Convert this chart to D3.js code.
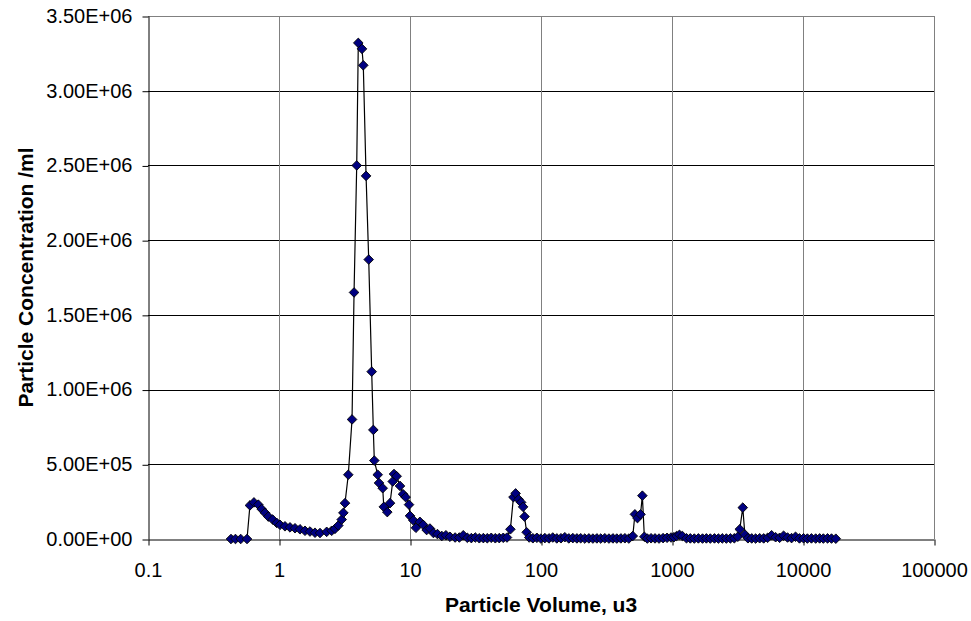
<!DOCTYPE html>
<html>
<head>
<meta charset="utf-8">
<script src="https://cdn.jsdelivr.net/npm/d3@7"></script>
<style>
  body { margin: 0; background: #fff; }
  svg text { font-family: "Liberation Sans", Arial, sans-serif; }
</style>
</head>
<body>
<div id="chart"></div>
<script>
// particle volume (u3) for each channel
const volumes = [
  0.43, 0.465, 0.51, 0.57, 0.60, 0.644, 0.695, 0.738, 0.782, 0.829,
  0.895, 0.96, 1.018, 1.111, 1.213, 1.325, 1.446, 1.579, 1.724, 1.883,
  2.056, 2.312, 2.525, 2.675, 2.836, 3.01, 3.10, 3.19, 3.38, 3.61,
  3.74, 3.92, 4.03, 4.30, 4.40, 4.62, 4.84, 5.10, 5.25, 5.34,
  5.67, 5.80, 6.19, 6.31, 6.71, 7.04, 7.38, 7.55, 7.91, 8.39,
  8.85, 9.27, 9.83, 10.0, 10.6, 11.1, 11.9, 12.6, 13.4, 14.2,
  15.1, 16.2, 17.5, 18.8, 20.2, 22.1, 23.8, 25.5, 27.4, 29.4,
  31.5, 33.8, 36.3, 38.9, 41.7, 44.8, 48.0, 51.5, 55.0, 58.4,
  61.6, 64.0, 67.5, 70.5, 73.0, 74.9, 77.7, 81.3, 86.7, 93,
  99.8, 107, 115, 123, 132, 142, 152, 163, 175, 188,
  201, 216, 232, 249, 267, 286, 307, 330, 354, 379,
  407, 437, 468, 502, 521, 545, 575, 594, 615, 648,
  692, 742, 796, 855, 917, 984, 1034, 1085, 1140, 1200,
  1290, 1380, 1480, 1590, 1710, 1830, 1960, 2110, 2260, 2420,
  2600, 2790, 2990, 3180, 3290, 3470, 3600, 3800, 4060, 4350,
  4670, 5010, 5370, 5760, 6180, 6630, 7110, 7620, 8180, 8770,
  9400, 10100, 10800, 11600, 12500, 13400, 14300, 15400, 16500, 17800
];

// concentration per ml, in millions
const concMillions = [
  0, 0, 0, 0, 0.225, 0.245, 0.23, 0.20, 0.175, 0.15,
  0.13, 0.108, 0.095, 0.085, 0.078, 0.072, 0.065, 0.055, 0.05, 0.042,
  0.04, 0.048, 0.055, 0.068, 0.09, 0.13, 0.175, 0.24, 0.43, 0.80,
  1.65, 2.50, 3.32, 3.28, 3.17, 2.43, 1.87, 1.12, 0.73, 0.525,
  0.43, 0.375, 0.34, 0.215, 0.18, 0.24, 0.385, 0.435, 0.42, 0.355,
  0.30, 0.28, 0.23, 0.155, 0.125, 0.075, 0.115, 0.095, 0.06, 0.07,
  0.04, 0.033, 0.02, 0.025, 0.015, 0.01, 0.01, 0.025, 0.008, 0.006,
  0.01, 0.005, 0.006, 0.005, 0.008, 0.005, 0.006, 0.008, 0.01, 0.065,
  0.28, 0.305, 0.265, 0.245, 0.215, 0.15, 0.045, 0.01, 0.005, 0.008,
  0.003, 0.006, 0.004, 0.01, 0.004, 0.005, 0.012, 0.004, 0.006, 0.004,
  0.005, 0.003, 0.004, 0.003, 0.004, 0.003, 0.005, 0.003, 0.004, 0.003,
  0.004, 0.005, 0.003, 0.02, 0.165, 0.14, 0.165, 0.29, 0.015, 0.003,
  0.005, 0.004, 0.003, 0.006, 0.008, 0.01, 0.012, 0.02, 0.028, 0.02,
  0.005, 0.004, 0.003, 0.004, 0.003, 0.004, 0.003, 0.004, 0.003, 0.004,
  0.003, 0.004, 0.005, 0.015, 0.065, 0.21, 0.03, 0.005, 0.004, 0.003,
  0.005, 0.004, 0.008, 0.025, 0.012, 0.008, 0.022, 0.01, 0.006, 0.015,
  0.004, 0.005, 0.003, 0.004, 0.003, 0.004, 0.003, 0.004, 0.003, 0.002
];

const xTicks = [0.1, 1, 10, 100, 1000, 10000, 100000];
const yTicks = [0, 500000, 1000000, 1500000, 2000000, 2500000, 3000000, 3500000];

const width = 971, height = 621;
const margin = {top: 16, right: 37, bottom: 82, left: 148};

const points = volumes.map((v, i) => ({x: v, y: concMillions[i] * 1e6}));

const svg = d3.select('#chart')
  .append('svg')
  .attr('width', width)
  .attr('height', height);

const x = d3.scaleLog()
  .domain([0.1, 100000])
  .range([margin.left, width - margin.right]);

const y = d3.scaleLinear()
  .domain([0, 3500000])
  .range([height - margin.bottom, margin.top]);

// excel style 3.50E+06
function sci(d) {
  const parts = d.toExponential(2).split('e');
  const exp = +parts[1];
  const sign = exp < 0 ? '-' : '+';
  return parts[0] + 'E' + sign + String(Math.abs(exp)).padStart(2, '0');
}

// horizontal grid lines
svg.append('g')
  .selectAll('line')
  .data(yTicks.slice(1))
  .enter().append('line')
  .attr('x1', margin.left)
  .attr('x2', width - margin.right)
  .attr('y1', d => Math.round(y(d)) + 0.5)
  .attr('y2', d => Math.round(y(d)) + 0.5)
  .attr('stroke', d => d === 3500000 ? '#808080' : '#000')
  .attr('stroke-width', 1);

// vertical grid lines
svg.append('g')
  .selectAll('line')
  .data(xTicks.slice(1))
  .enter().append('line')
  .attr('x1', d => Math.round(x(d)) + 0.5)
  .attr('x2', d => Math.round(x(d)) + 0.5)
  .attr('y1', margin.top)
  .attr('y2', height - margin.bottom)
  .attr('stroke', '#808080')
  .attr('stroke-width', 1);

// x axis
const xAxis = svg.append('g')
  .attr('transform', `translate(0,${Math.round(y(0)) + 0.5})`)
  .call(d3.axisBottom(x)
    .tickValues(xTicks)
    .tickFormat(d => String(d))
    .tickSizeInner(6)
    .tickSizeOuter(0)
    .tickPadding(17));

xAxis.select('.domain').attr('stroke', '#000');
xAxis.selectAll('.tick line').attr('stroke', '#000').attr('transform', 'translate(0.5,0)');
xAxis.selectAll('text')
  .attr('fill', '#000')
  .style('font-size', '20px');

// y axis
const yAxis = svg.append('g')
  .attr('transform', `translate(${Math.round(x(0.1)) + 0.5},0)`)
  .call(d3.axisLeft(y)
    .tickValues(yTicks)
    .tickFormat(sci)
    .tickSizeInner(6)
    .tickSizeOuter(0)
    .tickPadding(10));

yAxis.select('.domain').attr('stroke', '#000');
yAxis.selectAll('.tick line').attr('stroke', '#000').attr('transform', 'translate(0,0.5)');
yAxis.selectAll('text')
  .attr('fill', '#000')
  .style('font-size', '20px');

// axis titles
svg.append('text')
  .attr('x', (margin.left + width - margin.right) / 2)
  .attr('y', 612)
  .attr('text-anchor', 'middle')
  .style('font-size', '21px')
  .style('font-weight', 'bold')
  .text('Particle Volume, u3');

svg.append('text')
  .attr('transform', `translate(33,${(margin.top + height - margin.bottom) / 2}) rotate(-90)`)
  .attr('text-anchor', 'middle')
  .style('font-size', '21px')
  .style('font-weight', 'bold')
  .text('Particle Concentration /ml');

// series line
const line = d3.line()
  .x(d => x(d.x))
  .y(d => y(d.y));

svg.append('path')
  .datum(points)
  .attr('fill', 'none')
  .attr('stroke', '#000')
  .attr('stroke-width', 1.2)
  .attr('d', line);

// diamond markers
svg.append('g')
  .selectAll('path')
  .data(points)
  .enter().append('path')
  .attr('transform', d => `translate(${x(d.x)},${y(d.y)})`)
  .attr('d', 'M0,-4.8L4.8,0L0,4.8L-4.8,0Z')
  .attr('fill', '#000080')
  .attr('stroke', '#000')
  .attr('stroke-width', 0.9);
</script>
</body>
</html>
